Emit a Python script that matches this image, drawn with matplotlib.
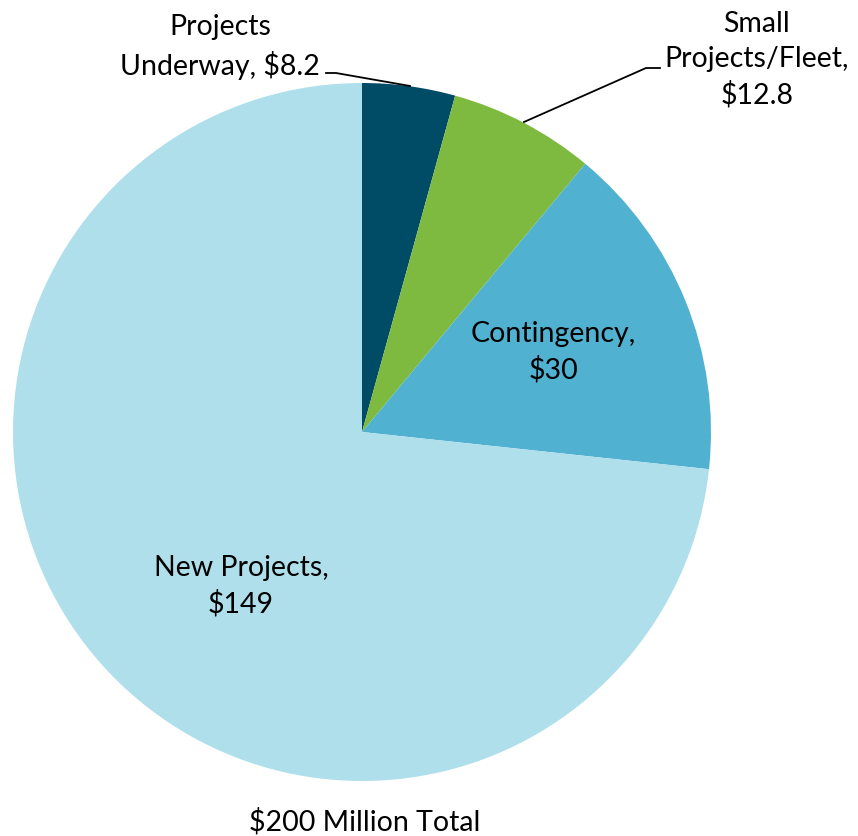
import matplotlib
matplotlib.use("Agg")
import matplotlib.pyplot as plt

categories = ["Projects\nUnderway", "Small\nProjects/Fleet", "Contingency", "New Projects"]
# slice sizes as drawn in the picture (angles), labelled values below
slice_values = [8.6, 13.5, 31.3, 146.6]
value_labels = ["$8.2", "$12.8", "$30", "$149"]
colors = ["#004B66", "#7FBA40", "#51B1D1", "#AEDFEB"]
total_label = "$200 Million Total"

plt.rcParams['font.family'] = ['Lato', 'DejaVu Sans']

W, H = 858, 836
fig = plt.figure(figsize=(W / 100, H / 100), dpi=100)
ax = fig.add_axes([0, 0, 1, 1])

cx, cy, r = 362, H - 432, 349
ax.pie(slice_values, colors=colors, startangle=90, counterclock=False,
       center=(cx, cy), radius=r, frame=True,
       wedgeprops=dict(linewidth=0))
ax.set_xlim(0, W)
ax.set_ylim(0, H)
ax.set_aspect('equal')
ax.axis('off')

fs = 20.5
ls = 1.42
def py(y):
    return H - y

ax.text(220, py(47), "Projects\nUnderway, " + value_labels[0], ha='center', va='center',
        fontsize=fs, linespacing=ls)
ax.text(757, py(60), "Small\nProjects/Fleet,\n" + value_labels[1], ha='center', va='center',
        fontsize=fs, linespacing=ls)
ax.text(553, py(352), "Contingency,\n" + value_labels[2], ha='center', va='center',
        fontsize=fs, linespacing=ls)
ax.text(241, py(586), "New Projects,\n" + value_labels[3], ha='center', va='center',
        fontsize=fs, linespacing=ls)
ax.text(365, py(822), total_label, ha='center', va='center', fontsize=fs)

# leader lines
ax.plot([326, 336, 410], [py(73), py(73), py(86)], color='black', lw=1.3)
ax.plot([660, 646, 524], [py(68), py(68), py(122)], color='black', lw=1.3)

fig.savefig("out.png", dpi=100)
